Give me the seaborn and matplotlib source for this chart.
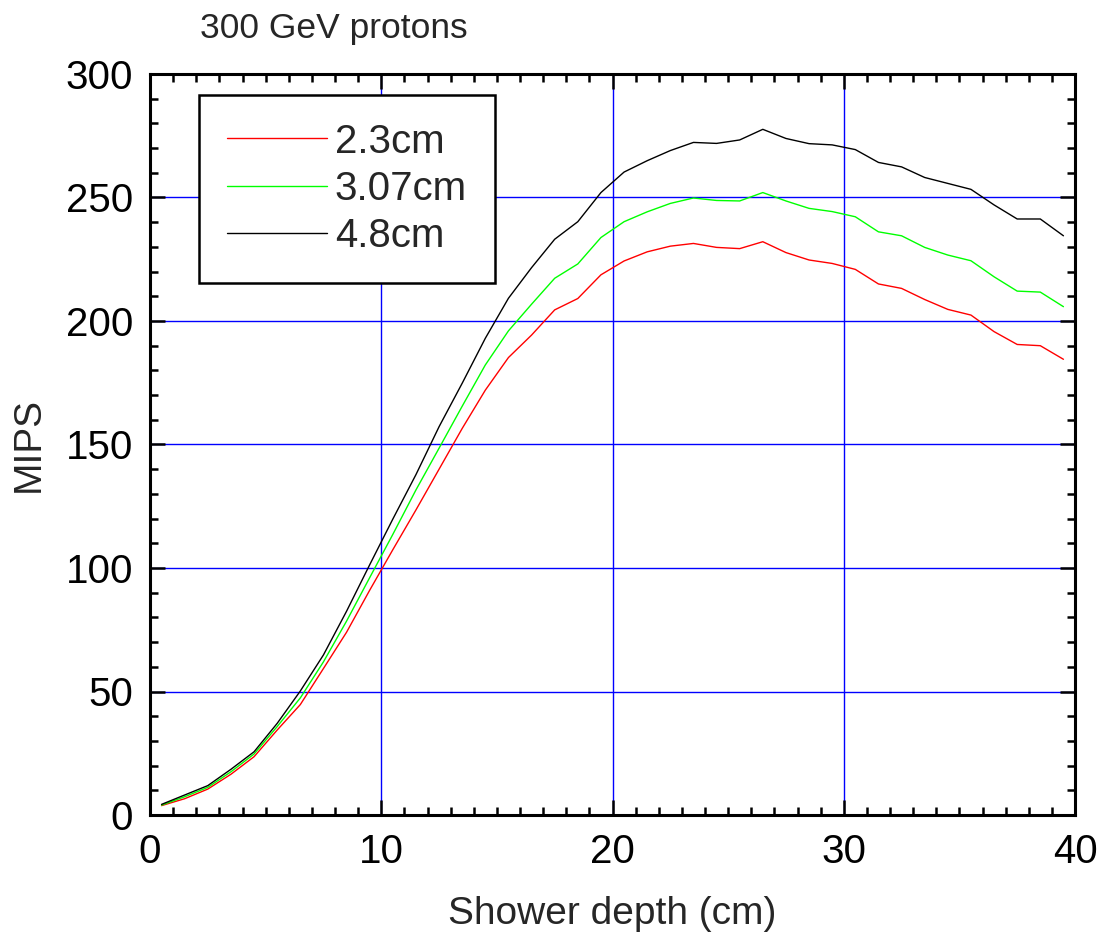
import numpy as np
import pandas as pd
import matplotlib
matplotlib.use("Agg")
import matplotlib.pyplot as plt
from matplotlib.ticker import MultipleLocator
import seaborn as sns

depth = [0.5, 1.5, 2.5, 3.5, 4.5, 5.5, 6.5, 7.5, 8.5, 9.5,
         10.5, 11.5, 12.5, 13.5, 14.5, 15.5, 16.5, 17.5, 18.5, 19.5,
         20.5, 21.5, 22.5, 23.5, 24.5, 25.5, 26.5, 27.5, 28.5, 29.5,
         30.5, 31.5, 32.5, 33.5, 34.5, 35.5, 36.5, 37.5, 38.5, 39.5]

mips_23 = [3.8, 6.6, 10.5, 16.5, 23.6, 34.4, 44.7, 59.3, 74.0, 91.0,
           107.4, 123.5, 140.0, 156.5, 172.0, 185.2, 194.3, 204.5, 209.1, 218.7,
           224.3, 228.0, 230.3, 231.4, 229.8, 229.3, 232.1, 227.7, 224.7, 223.3,
           220.9, 215.0, 213.2, 208.7, 204.7, 202.4, 195.7, 190.5, 190.0, 184.5]

mips_307 = [4.0, 7.4, 11.2, 17.5, 24.7, 35.8, 47.4, 62.0, 78.5, 96.1,
            113.6, 131.6, 148.5, 165.5, 182.2, 196.0, 206.8, 217.3, 223.1, 233.8,
            240.2, 244.2, 247.6, 249.8, 248.8, 248.6, 252.0, 248.6, 245.6, 244.3,
            242.2, 236.1, 234.5, 229.8, 226.7, 224.4, 217.9, 212.1, 211.7, 205.8]

mips_48 = [4.3, 8.1, 11.9, 18.5, 25.6, 37.1, 50.2, 64.8, 82.5, 101.3,
           119.8, 137.8, 157.2, 174.8, 193.0, 209.2, 221.6, 233.1, 240.2, 252.0,
           260.3, 264.9, 269.0, 272.3, 271.9, 273.3, 277.6, 273.9, 271.8, 271.3,
           269.4, 264.2, 262.4, 258.1, 255.7, 253.3, 247.0, 241.3, 241.3, 234.5]

labels = ["2.3cm", "3.07cm", "4.8cm"]
colors = ["#ff0000", "#00ff00", "#000000"]

df = pd.concat([
    pd.DataFrame({"depth": depth, "mips": vals, "series": lab})
    for vals, lab in zip([mips_23, mips_307, mips_48], labels)
])

sns.set_style("ticks")
plt.rcParams["font.family"] = ["Liberation Sans", "DejaVu Sans"]

fig = plt.figure(figsize=(10.99, 9.38), dpi=100)
ax = fig.add_axes([150/1099, 1 - 815/938, 925/1099, 741/938])

sns.lineplot(data=df, x="depth", y="mips", hue="series", palette=colors,
             hue_order=labels, linewidth=1.0, ax=ax, legend=True)

ax.set_xlim(0, 40)
ax.set_ylim(0, 300)
ax.xaxis.set_major_locator(MultipleLocator(10))
ax.xaxis.set_minor_locator(MultipleLocator(1))
ax.yaxis.set_major_locator(MultipleLocator(50))
ax.yaxis.set_minor_locator(MultipleLocator(10))
ax.grid(True, which="major", color="#0000ff", linewidth=1.0)
ax.set_axisbelow(True)

for s in ax.spines.values():
    s.set_linewidth(2.2)
    s.set_color("black")
    s.set_visible(True)

ax.tick_params(which="both", direction="in", top=True, right=True,
               labelsize=29, colors="black", width=1.8)
ax.tick_params(which="major", length=11)
ax.tick_params(which="minor", length=5.5)
ax.tick_params(axis="x", which="major", pad=13)
ax.tick_params(axis="y", which="major", pad=12)

ax.set_xlabel("Shower depth (cm)", fontsize=28, labelpad=18)
ax.set_ylabel("MIPS", fontsize=28, labelpad=14)

ax.text(0.054, 1.062, "300 GeV protons", transform=ax.transAxes,
        fontsize=25.5, ha="left", va="center")

leg = ax.legend(loc="upper left", bbox_to_anchor=(0.053, 0.972),
                fontsize=29, frameon=True, fancybox=False, shadow=False,
                handlelength=2.48, handletextpad=0.2, labelspacing=0.23,
                borderpad=0.69, borderaxespad=0)
leg.get_frame().set_edgecolor("black")
leg.get_frame().set_linewidth(1.8)
leg.get_frame().set_alpha(1)
for line in leg.get_lines():
    line.set_linewidth(1.0)

fig.savefig("out.png", dpi=100)
